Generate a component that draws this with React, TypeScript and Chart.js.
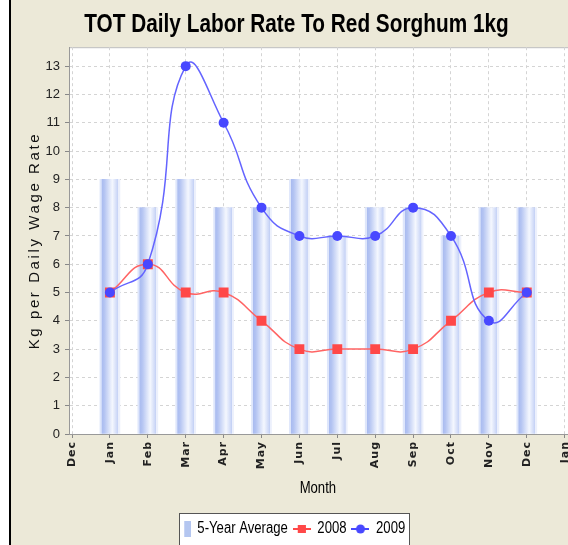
import React, { useEffect, useRef } from 'react';
import { Chart, registerables } from 'chart.js';

Chart.register(...registerables);

// ---- data ----
const tickLabels = ['Dec', 'Jan', 'Feb', 'Mar', 'Apr', 'May', 'Jun', 'Jul', 'Aug', 'Sep', 'Oct', 'Nov', 'Dec', 'Jan'];
const monthPos = [1, 2, 3, 4, 5, 6, 7, 8, 9, 10, 11, 12];
const avg5Year = [9, 8, 9, 8, 8, 9, 7, 8, 8, 7, 8, 8];
const series2008 = [5, 6, 5, 5, 4, 3, 3, 3, 3, 4, 5, 5];
const series2009 = [5, 6, 13, 11, 8, 7, 7, 7, 8, 7, 4, 5];

const SANS = '"Liberation Sans", Arial, sans-serif';
const BEIGE = 'rgb(236,233,216)';
const BAR_W = 20;
const NARROW_K = 0.82; // horizontal squeeze to imitate a narrow face
const TITLE_K = 0.8;
const SYM_W = 22;

function makeSwatch(kind: 'bar' | 'rect' | 'circle'): HTMLCanvasElement {
  const c = document.createElement('canvas');
  c.width = SYM_W; c.height = kind === 'bar' ? 16 : 10;
  const g = c.getContext('2d')!;
  if (kind === 'bar') {
    g.fillStyle = 'rgb(180,198,240)';
    g.fillRect(SYM_W - 8, 0, 8, 16);
  } else {
    const col = kind === 'rect' ? 'rgb(255,72,72)' : 'rgb(72,72,255)';
    g.strokeStyle = col; g.lineWidth = 2;
    g.beginPath(); g.moveTo(0, 5); g.lineTo(SYM_W, 5); g.stroke();
    g.fillStyle = col;
    if (kind === 'rect') g.fillRect(SYM_W / 2 - 5, 1, 10, 8);
    else { g.beginPath(); g.ellipse(SYM_W / 2, 5, 4.5 / NARROW_K, 4.5, 0, 0, Math.PI * 2); g.fill(); }
  }
  return c;
}

function squeeze(ctx: CanvasRenderingContext2D, cx: number, k: number) {
  ctx.translate(cx, 0);
  ctx.scale(k, 1);
  ctx.translate(-cx, 0);
}

const stylePlugin = {
  id: 'stylePlugin',
  beforeDraw(chart: any) {
    const { ctx, chartArea: a, width, height } = chart;
    ctx.save();
    ctx.fillStyle = BEIGE;
    ctx.fillRect(0, 0, width, height);
    ctx.fillStyle = '#fff';
    ctx.fillRect(a.left, a.top, a.right - a.left, a.bottom - a.top);
    ctx.strokeStyle = '#bbb';
    ctx.lineWidth = 1;
    ctx.beginPath();
    ctx.moveTo(a.left, a.top + 0.5);
    ctx.lineTo(a.right, a.top + 0.5);
    ctx.stroke();
    ctx.restore();

    const tb = chart.titleBlock;
    if (tb && !tb.__wrapped) {
      const orig = tb.draw.bind(tb);
      tb.draw = (...args: any[]) => {
        const cx = (tb.left + tb.right) / 2;
        ctx.save();
        ctx.translate(5.5, 1.5);
        squeeze(ctx, cx, TITLE_K);
        orig(...args);
        ctx.restore();
      };
      tb.__wrapped = true;
    }

    const lg = chart.legend;
    if (lg && !lg.__wrapped) {
      const orig = lg.draw.bind(lg);
      lg.draw = (...args: any[]) => {
        const hb = lg.legendHitBoxes || [];
        let l = Infinity, r = -Infinity, t = Infinity, b = -Infinity;
        hb.forEach((h: any) => {
          l = Math.min(l, h.left); r = Math.max(r, h.left + h.width);
          t = Math.min(t, h.top); b = Math.max(b, h.top + h.height);
        });
        const cx = (l + r) / 2;
        if (hb.length) {
          const x0 = Math.round(cx + (l + 9 - cx) * NARROW_K) - 2.5;
          const x1 = Math.round(cx + (r + 4 - cx) * NARROW_K) - 1.5;
          const y0 = Math.round(t - 7) + 0.5;
          const y1 = Math.round(b + 14) + 0.5;
          ctx.save();
          ctx.fillStyle = '#fff';
          ctx.fillRect(x0, y0, x1 - x0, y1 - y0);
          ctx.strokeStyle = '#555';
          ctx.lineWidth = 1;
          ctx.strokeRect(x0, y0, x1 - x0, y1 - y0);
          ctx.restore();
        }
        ctx.save();
        ctx.translate(-2, 1);
        squeeze(ctx, cx, NARROW_K);
        orig(...args);
        ctx.restore();
      };
      lg.__wrapped = true;
    }

    const ys = chart.scales.y;
    if (ys && !ys.__wrapped) {
      const orig = ys.drawTitle.bind(ys);
      ys.drawTitle = (...args: any[]) => {
        ctx.save();
        (ctx as any).letterSpacing = '2.6px';
        orig(...args);
        ctx.restore();
      };
      ys.__wrapped = true;
    }
    const xs = chart.scales.x;
    if (xs && !xs.__wrapped) {
      const origL = xs.drawLabels.bind(xs);
      xs.drawLabels = (...args: any[]) => {
        ctx.save();
        (ctx as any).letterSpacing = '1px';
        origL(...args);
        ctx.restore();
      };
      const origT = xs.drawTitle.bind(xs);
      xs.drawTitle = (...args: any[]) => {
        const cx = (xs.left + xs.right) / 2;
        ctx.save();
        ctx.translate(-2, 0);
        squeeze(ctx, cx, NARROW_K);
        origT(...args);
        ctx.restore();
      };
      xs.__wrapped = true;
    }
  },
};

function barGradient(c: any) {
  if (c.type !== 'data') return 'rgb(180,198,240)';
  const chart = c.chart;
  const xs = chart.scales.x;
  if (!xs) return 'rgb(180,198,240)';
  const x = xs.getPixelForValue(c.raw.x);
  const g = chart.ctx.createLinearGradient(x - BAR_W / 2, 0, x + BAR_W / 2, 0);
  g.addColorStop(0, 'rgb(222,230,251)');
  g.addColorStop(0.07, 'rgb(222,230,251)');
  g.addColorStop(0.1, 'rgb(170,188,240)');
  g.addColorStop(0.22, 'rgb(180,196,242)');
  g.addColorStop(0.62, 'rgb(244,247,254)');
  g.addColorStop(0.86, 'rgb(205,216,247)');
  g.addColorStop(0.9, 'rgb(196,209,245)');
  g.addColorStop(0.93, 'rgb(236,240,252)');
  g.addColorStop(1, 'rgb(236,240,252)');
  return g;
}

export default function App() {
  const ref = useRef<HTMLCanvasElement | null>(null);

  useEffect(() => {
    if (!ref.current) return;
    const swatches = [makeSwatch('bar'), makeSwatch('rect'), makeSwatch('circle')];
    const chart = new Chart(ref.current, {
      type: 'bar',
      data: {
        datasets: [
          {
            type: 'bar',
            label: '5-Year Average',
            data: monthPos.map((m, i) => ({ x: m, y: avg5Year[i] })),
            backgroundColor: barGradient as any,
            borderWidth: 0,
            barThickness: BAR_W,
            order: 3,
          } as any,
          {
            type: 'line',
            label: '2008',
            data: monthPos.map((m, i) => ({ x: m, y: series2008[i] })),
            borderColor: 'rgb(255,100,100)',
            backgroundColor: 'rgb(255,72,72)',
            borderWidth: 1.5,
            pointStyle: 'rect',
            pointRadius: 7,
            pointBorderWidth: 0,
            pointBackgroundColor: 'rgb(255,72,72)',
            tension: 0.5,
            fill: false,
            order: 2,
          } as any,
          {
            type: 'line',
            label: '2009',
            data: monthPos.map((m, i) => ({ x: m, y: series2009[i] })),
            borderColor: 'rgb(100,100,255)',
            backgroundColor: 'rgb(72,72,255)',
            borderWidth: 1.5,
            pointStyle: 'circle',
            pointRadius: 5,
            pointBorderWidth: 0,
            pointBackgroundColor: 'rgb(72,72,255)',
            tension: 0.5,
            fill: false,
            order: 1,
          } as any,
        ],
      },
      options: {
        responsive: false,
        animation: false,
        devicePixelRatio: 1,
        layout: { padding: { top: 2, right: 10, left: 0, bottom: 10 } },
        plugins: {
          tooltip: { enabled: false },
          title: {
            display: true,
            text: 'TOT Daily Labor Rate To Red Sorghum 1kg',
            color: '#000',
            font: { family: SANS, size: 26, weight: 'bold' },
            padding: { top: 6, bottom: 8 },
          },
          legend: {
            display: true,
            position: 'bottom',
            labels: {
              color: '#000',
              font: { family: SANS, size: 16 },
              usePointStyle: true,
              pointStyleWidth: SYM_W,
              padding: 6,
              generateLabels: (ch: any) =>
                ch.data.datasets.map((d: any, i: number) => ({
                  text: d.label,
                  pointStyle: swatches[i],
                  fillStyle: 'transparent',
                  strokeStyle: 'transparent',
                  lineWidth: 0,
                  fontColor: '#000',
                  hidden: false,
                  datasetIndex: i,
                })),
            },
          },
        },
        scales: {
          x: {
            type: 'linear',
            min: -0.08,
            max: 13.16,
            offset: false,
            afterFit: (s: any) => { s.height = 80; },
            ticks: {
              stepSize: 1,
              autoSkip: false,
              maxTicksLimit: 30,
              includeBounds: false,
              minRotation: 90,
              maxRotation: 90,
              padding: 3,
              color: '#222',
              font: { family: '"DejaVu Sans", sans-serif', size: 11, weight: 'bold' },
              callback: (v: any) => (Number.isInteger(v) ? tickLabels[v] : ''),
            },
            grid: {
              offset: false,
              color: '#d4d4d4',
              lineWidth: 1,
              tickLength: 4,
              tickColor: '#888',
              tickBorderDash: [],
            },
            border: { display: true, color: '#999', width: 1, dash: [3, 3] },
            title: {
              display: true,
              text: 'Month',
              color: '#000',
              font: { family: SANS, size: 16 },
              padding: { top: 0, bottom: 16 },
            },
          },
          y: {
            type: 'linear',
            min: 0,
            max: 13.67,
            afterFit: (s: any) => { s.width = 58; },
            ticks: {
              stepSize: 1,
              includeBounds: false,
              maxTicksLimit: 30,
              padding: 5,
              color: '#222',
              font: { family: SANS, size: 13 },
              callback: (v: any) => (Number.isInteger(v) ? String(v) : ''),
            },
            grid: {
              color: '#d4d4d4',
              lineWidth: 1,
              tickLength: 4,
              tickColor: '#888',
              tickBorderDash: [],
            },
            border: { display: true, color: '#999', width: 1, dash: [3, 3] },
            title: {
              display: true,
              text: 'Kg per Daily Wage Rate',
              color: '#111',
              font: { family: SANS, size: 15 },
              padding: { top: 15, bottom: 0 },
            },
          },
        },
      } as any,
      plugins: [stylePlugin],
    });
    return () => chart.destroy();
  }, []);

  return (
    <div style={{ position: 'absolute', left: 0, top: 0, width: 568, height: 545, overflow: 'hidden', background: '#fff' }}>
      <div style={{ position: 'absolute', left: 9, top: 0, width: 2, height: 545, background: '#000' }} />
      <div style={{ position: 'absolute', left: 11, top: 0, width: 570, height: 556, background: BEIGE }}>
        <canvas ref={ref} width={570} height={556} style={{ display: 'block', width: 570, height: 556 }} />
      </div>
    </div>
  );
}
